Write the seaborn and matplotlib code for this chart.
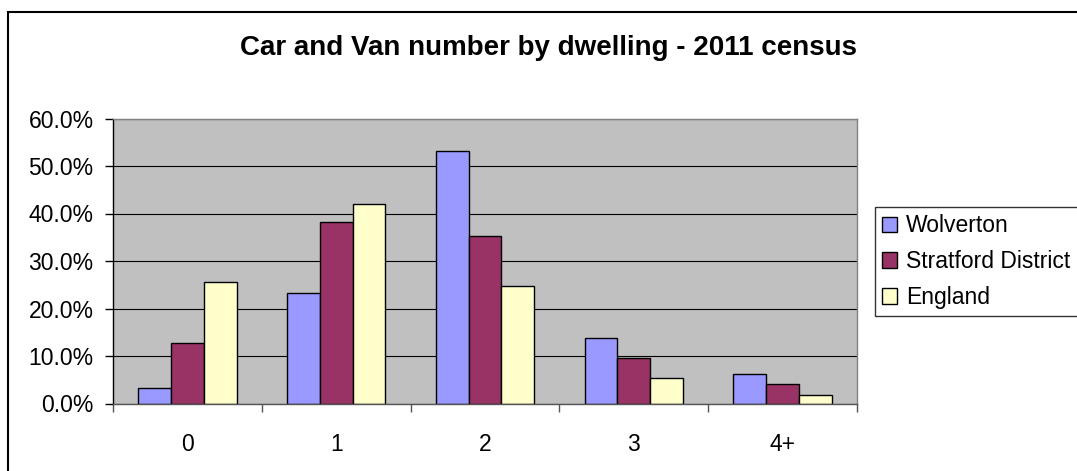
import matplotlib
matplotlib.use("Agg")
import matplotlib.pyplot as plt
from matplotlib.patches import Rectangle
from matplotlib.ticker import FixedLocator, FuncFormatter
import pandas as pd
import seaborn as sns

# Share of households by number of cars or vans (2011 census)
categories = ["0", "1", "2", "3", "4+"]
wolverton = [3.2, 23.3, 53.1, 13.7, 6.2]
stratford = [12.8, 38.2, 35.2, 9.5, 4.1]
england = [25.6, 42.0, 24.8, 5.3, 1.7]
series_names = ["Wolverton", "Stratford District", "England"]
series_colors = ["#9999FF", "#993366", "#FFFFCC"]

rows = []
for name, values in zip(series_names, [wolverton, stratford, england]):
    for cat, v in zip(categories, values):
        rows.append({"cars": cat, "area": name, "share": v})
df = pd.DataFrame(rows)

sns.set_theme(style="white")
plt.rcParams["font.family"] = ["Liberation Sans", "DejaVu Sans"]
plt.rcParams["text.color"] = "black"
plt.rcParams["xtick.color"] = "black"
plt.rcParams["ytick.color"] = "black"

fig = plt.figure(figsize=(10.77, 4.71), dpi=100)
fig.patch.set_facecolor("white")
W, H = 1077, 471
ax = fig.add_axes([113 / W, 1 - 403.5 / H, (857 - 113) / W, (403.5 - 118.5) / H])

sns.barplot(data=df, x="cars", y="share", hue="area", order=categories,
            hue_order=series_names, palette=series_colors, width=0.66,
            edgecolor="black", linewidth=1.0, saturation=1, ax=ax, legend=True)

ax.set_facecolor("#C0C0C0")
ax.set_xlim(-0.5, len(categories) - 0.5)
ax.set_ylim(0, 60)
ax.set_xlabel("")
ax.set_ylabel("")
ax.set_axisbelow(True)
ax.yaxis.set_major_locator(FixedLocator([0, 10, 20, 30, 40, 50, 60]))
ax.yaxis.set_major_formatter(FuncFormatter(lambda v, _: f"{v:.1f}%"))
ax.grid(axis="y", color="black", linewidth=0.8)
ax.grid(axis="x", visible=False)

# category labels centred, tick marks on the group boundaries
ax.set_xticks(range(len(categories)))
ax.set_xticklabels(categories)
ax.set_xticks([i - 0.5 for i in range(len(categories) + 1)], minor=True)
ax.tick_params(axis="x", which="major", length=0, pad=21, labelsize=16.5,
               labelcolor="black")
ax.tick_params(axis="x", which="minor", length=6, width=1, color="#555555",
               direction="out", bottom=True)
ax.tick_params(axis="y", which="major", length=6, width=1, color="black",
               direction="out", left=True, pad=8, labelsize=16.5,
               labelcolor="black")

for side in ["top", "right"]:
    ax.spines[side].set_color("#808080")
    ax.spines[side].set_linewidth(1)
ax.spines["bottom"].set_color("#555555")
ax.spines["bottom"].set_linewidth(1)
ax.spines["left"].set_color("black")
ax.spines["left"].set_linewidth(1)

handles, labels = ax.get_legend_handles_labels()
ax.legend_.remove()
leg = fig.legend(handles, labels, loc="upper left",
                 bbox_to_anchor=(875 / W, 1 - 207 / H), borderaxespad=0,
                 fontsize=16.5, frameon=True, fancybox=False, shadow=False,
                 handlelength=0.65, handleheight=0.65, handletextpad=0.4,
                 labelspacing=0.56, borderpad=0.32)
leg.get_frame().set_edgecolor("black")
leg.get_frame().set_linewidth(1)
leg.get_frame().set_facecolor("white")
for t in leg.get_texts():
    t.set_color("black")

fig.text(548 / W, 1 - 48 / H, "Car and Van number by dwelling - 2011 census",
         ha="center", va="center", fontsize=20, fontweight="bold",
         color="black")

# outer chart frame
fig.patches.append(Rectangle((7.5 / W, -0.1), 1.2, 1.1 - 11.5 / H,
                             transform=fig.transFigure, fill=False,
                             edgecolor="black", linewidth=1.5, zorder=-1))

fig.savefig("out.png", dpi=100)
